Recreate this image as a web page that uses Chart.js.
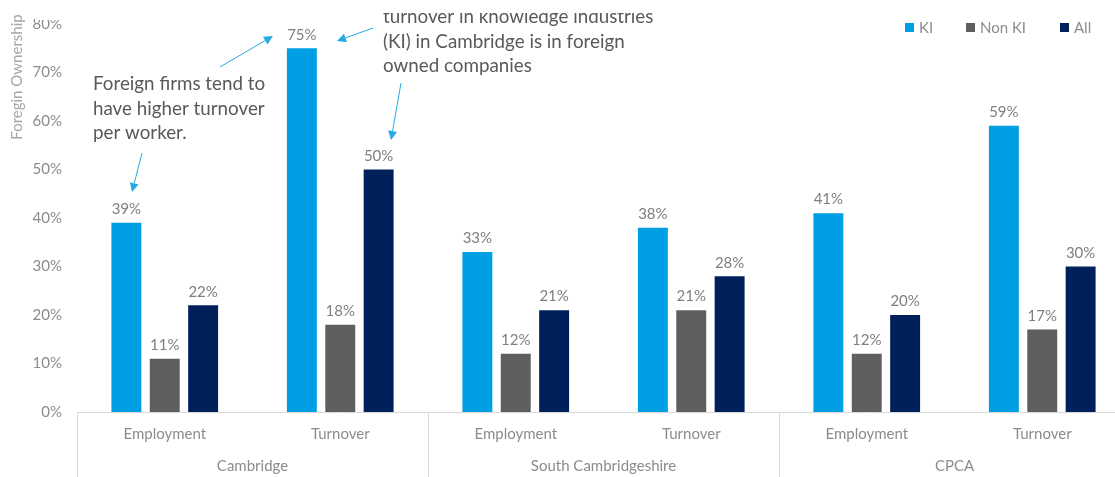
<!DOCTYPE html>
<html>
<head>
<meta charset="utf-8">
<script src="https://cdn.jsdelivr.net/npm/chart.js@4.4.1/dist/chart.umd.min.js"></script>
<style>
  html, body { margin: 0; padding: 0; background: #fff; overflow: hidden; }
  #wrap { width: 1115px; height: 477px; overflow: hidden; position: relative; }
  canvas { display: block; }
</style>
</head>
<body>
<div id="wrap"><canvas id="myChart" width="1131" height="477"></canvas></div>
<script>
// measures per area
const categories = ["Employment", "Turnover", "Employment", "Turnover", "Employment", "Turnover"];
const groups = ["Cambridge", "South Cambridgeshire", "CPCA"];
const seriesNames = ["KI", "Non KI", "All"];
const kiValues = [39, 75, 33, 38, 41, 59];
const nonKiValues = [11, 18, 12, 21, 12, 17];
const allValues = [22, 50, 21, 28, 20, 30];
const colors = ["#009FE3", "#5F5F5F", "#00205B"];

const FONT = "Lato, 'Open Sans', sans-serif";

const notes = [
  { lines: ["Foreign firms tend to", "have higher turnover", "per worker."], x: 93, y: 84, clipTop: 0 },
  { lines: ["turnover in knowledge industries", "(KI) in Cambridge is in foreign", "owned companies"], x: 383, y: 17, clipTop: 13 },
];
const arrows = [
  [220, 67, 273, 36],
  [142, 153, 132, 192],
  [373, 28, 337, 41],
  [401, 83, 391, 140],
];

function drawArrow(ctx, x1, y1, x2, y2) {
  const a = Math.atan2(y2 - y1, x2 - x1);
  const len = 9, w = 4.5;
  const bx = x2 - len * Math.cos(a), by = y2 - len * Math.sin(a);
  ctx.beginPath();
  ctx.moveTo(x1, y1);
  ctx.lineTo(bx, by);
  ctx.stroke();
  ctx.beginPath();
  ctx.moveTo(x2, y2);
  ctx.lineTo(bx + w * Math.sin(a), by - w * Math.cos(a));
  ctx.lineTo(bx - w * Math.sin(a), by + w * Math.cos(a));
  ctx.closePath();
  ctx.fill();
}

const extras = {
  id: "extras",
  afterDraw(chart) {
    const ctx = chart.ctx;
    const xs = chart.scales.x;
    const bottom = chart.chartArea.bottom;
    ctx.save();

    // percentage labels above bars
    ctx.font = "15px " + FONT;
    ctx.fillStyle = "#7F7F7F";
    ctx.textAlign = "center";
    ctx.textBaseline = "bottom";
    chart.data.datasets.forEach((ds, i) => {
      chart.getDatasetMeta(i).data.forEach((bar, j) => {
        ctx.fillText(ds.data[j] + "%", bar.x, bar.y - 6);
      });
    });

    // group separators and group names
    const edges = [xs.left];
    for (let g = 1; g < groups.length; g++) {
      edges.push((xs.getPixelForValue(g * 2 - 1) + xs.getPixelForValue(g * 2)) / 2);
    }
    edges.push(xs.right);
    ctx.strokeStyle = "#D9D9D9";
    ctx.lineWidth = 1;
    edges.forEach(x => {
      ctx.beginPath();
      ctx.moveTo(Math.round(x) + 0.5, bottom);
      ctx.lineTo(Math.round(x) + 0.5, chart.height);
      ctx.stroke();
    });
    ctx.fillStyle = "#8C8C8C";
    ctx.textBaseline = "middle";
    groups.forEach((g, i) => {
      ctx.fillText(g, (edges[i] + edges[i + 1]) / 2, 466);
    });

    // legend
    const legendX = [905, 966, 1060];
    seriesNames.forEach((name, i) => {
      ctx.fillStyle = colors[i];
      ctx.fillRect(legendX[i], 23, 9, 9);
      ctx.fillStyle = "#8C8C8C";
      ctx.textAlign = "left";
      ctx.fillText(name, legendX[i] + 14, 28);
    });

    // axis title
    ctx.save();
    ctx.translate(17, 77);
    ctx.rotate(-Math.PI / 2);
    ctx.textAlign = "center";
    ctx.font = "15px " + FONT;
    ctx.fillStyle = "#A6A6A6";
    ctx.fillText("Foregin Ownership", 0, 0);
    ctx.restore();

    // callouts
    ctx.font = "18.8px " + FONT;
    ctx.fillStyle = "#595959";
    ctx.textAlign = "left";
    notes.forEach(n => {
      ctx.save();
      ctx.beginPath();
      ctx.rect(0, n.clipTop, chart.width, chart.height);
      ctx.clip();
      n.lines.forEach((t, k) => ctx.fillText(t, n.x, n.y + k * 24.5));
      ctx.restore();
    });
    ctx.strokeStyle = "#29A9E1";
    ctx.fillStyle = "#29A9E1";
    ctx.lineWidth = 1;
    arrows.forEach(a => drawArrow(ctx, a[0], a[1], a[2], a[3]));

    // top edge trim over the highest tick label
    ctx.fillStyle = "#fff";
    ctx.fillRect(35, 0, 40, 20);
    ctx.restore();
  }
};

const myChart = new Chart(document.getElementById("myChart").getContext("2d"), {
  type: "bar",
  data: {
    labels: categories,
    datasets: [
      { label: seriesNames[0], data: kiValues, backgroundColor: colors[0] },
      { label: seriesNames[1], data: nonKiValues, backgroundColor: colors[1] },
      { label: seriesNames[2], data: allValues, backgroundColor: colors[2] },
    ],
  },
  options: {
    responsive: false,
    animation: false,
    devicePixelRatio: 1,
    layout: { padding: { top: 24, right: 1, left: 0, bottom: 0 } },
    datasets: { bar: { categoryPercentage: 0.656, barPercentage: 0.78 } },
    plugins: { legend: { display: false }, tooltip: { enabled: false } },
    scales: {
      x: {
        grid: { display: false, drawTicks: false },
        border: { display: true, color: "#D9D9D9", width: 1 },
        ticks: { color: "#8C8C8C", font: { family: FONT, size: 15 }, padding: 13, maxRotation: 0 },
        afterFit: s => { s.height = 65; },
      },
      y: {
        min: 0,
        max: 80,
        grid: { display: false, drawTicks: false },
        border: { display: false },
        ticks: {
          stepSize: 10,
          color: "#8C8C8C",
          font: { family: FONT, size: 15 },
          padding: 15,
          callback: v => v + "%",
        },
        afterFit: s => { s.width = 77; },
      },
    },
  },
  plugins: [extras],
});
</script>
</body>
</html>
